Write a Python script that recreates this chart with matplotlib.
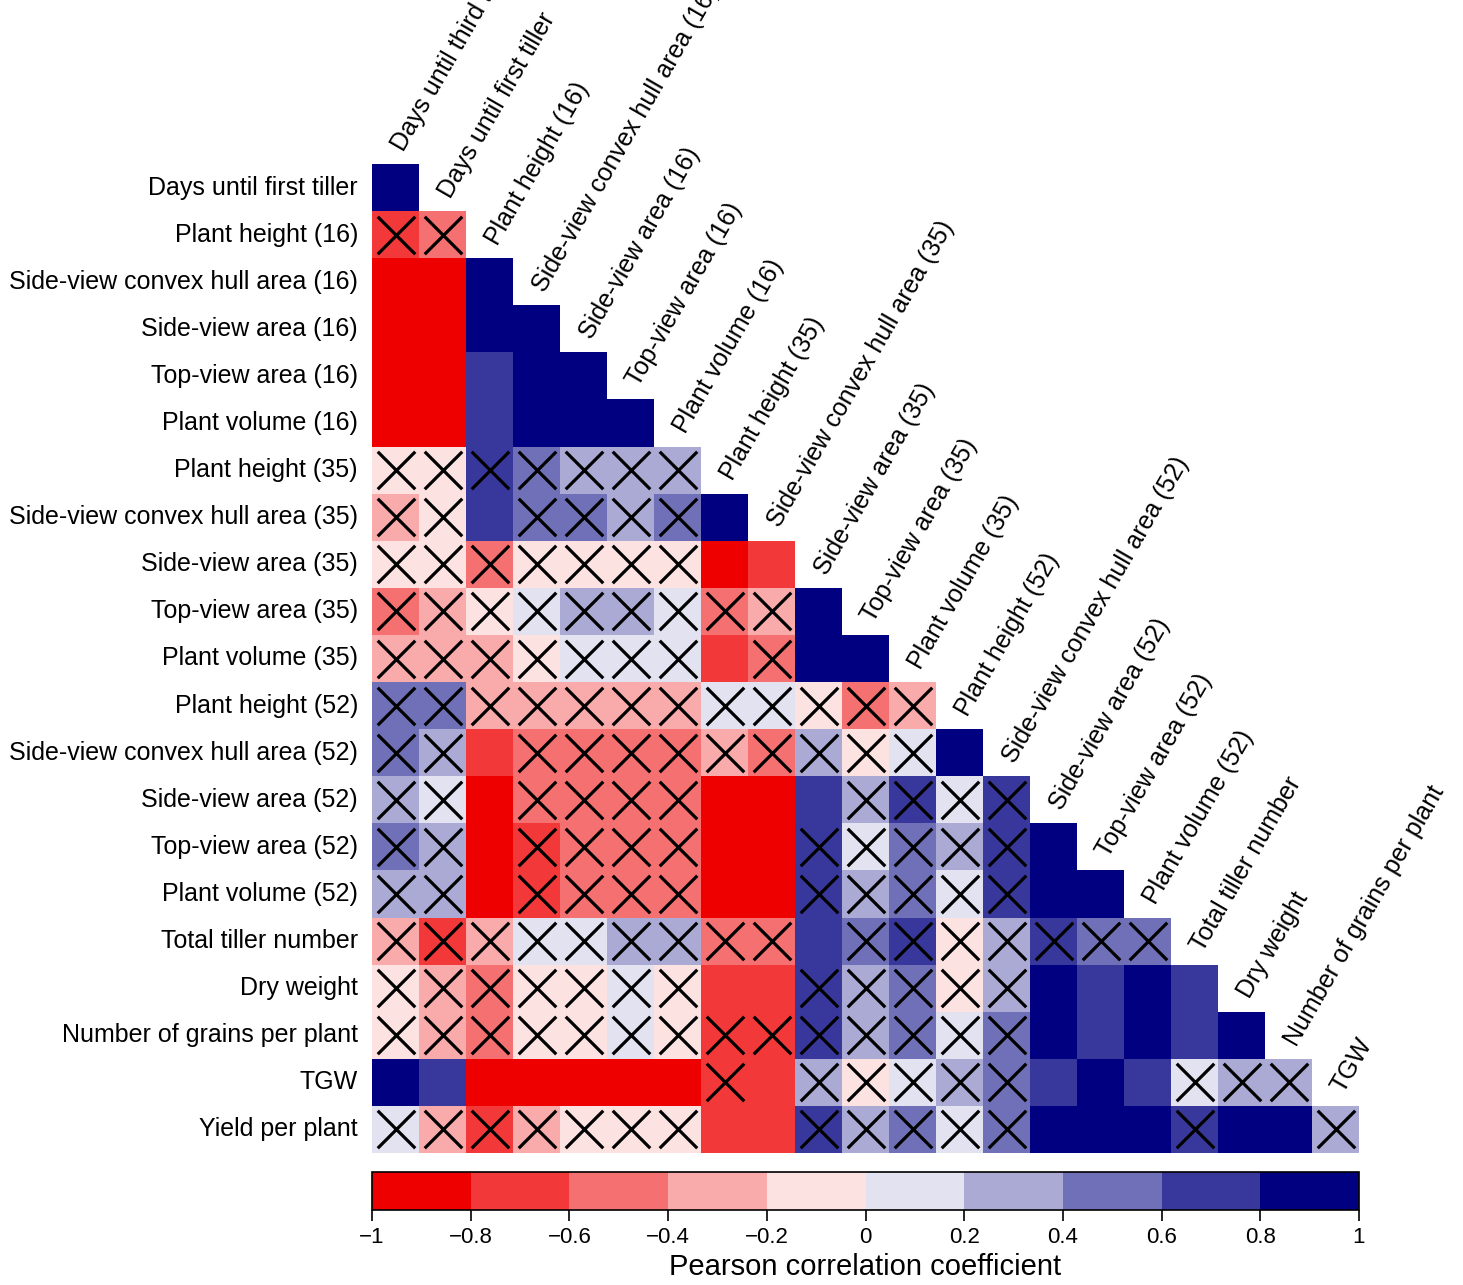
import numpy as np
import matplotlib
matplotlib.use("Agg")
import matplotlib.pyplot as plt
from matplotlib.colors import LinearSegmentedColormap, ListedColormap, BoundaryNorm
from matplotlib.cm import ScalarMappable

plt.rcParams['font.family'] = ['Liberation Sans', 'DejaVu Sans']

# variables (columns = first 21, rows = last 21)
variables = ["Days until third tiller", "Days until first tiller",
             "Plant height (16)", "Side-view convex hull area (16)", "Side-view area (16)",
             "Top-view area (16)", "Plant volume (16)",
             "Plant height (35)", "Side-view convex hull area (35)", "Side-view area (35)",
             "Top-view area (35)", "Plant volume (35)",
             "Plant height (52)", "Side-view convex hull area (52)", "Side-view area (52)",
             "Top-view area (52)", "Plant volume (52)",
             "Total tiller number", "Dry weight", "Number of grains per plant", "TGW",
             "Yield per plant"]

# lower triangle of the Pearson correlation matrix (row i = variables[i+1])
corr_rows = [
    [0.9],
    [-0.7, -0.5],
    [-0.9, -0.9, 0.9],
    [-0.9, -0.9, 0.9, 0.9],
    [-0.9, -0.9, 0.7, 0.9, 0.9],
    [-0.9, -0.9, 0.7, 0.9, 0.9, 0.9],
    [-0.1, -0.1, 0.7, 0.5, 0.3, 0.3, 0.3],
    [-0.3, -0.1, 0.7, 0.5, 0.5, 0.3, 0.5, 0.9],
    [-0.1, -0.1, -0.5, -0.1, -0.1, -0.1, -0.1, -0.9, -0.7],
    [-0.5, -0.3, -0.1, 0.1, 0.3, 0.3, 0.1, -0.5, -0.3, 0.9],
    [-0.3, -0.3, -0.3, -0.1, 0.1, 0.1, 0.1, -0.7, -0.5, 0.9, 0.9],
    [0.5, 0.5, -0.3, -0.3, -0.3, -0.3, -0.3, 0.1, 0.1, -0.1, -0.5, -0.3],
    [0.5, 0.3, -0.7, -0.5, -0.5, -0.5, -0.5, -0.3, -0.5, 0.3, -0.1, 0.1, 0.9],
    [0.3, 0.1, -0.9, -0.5, -0.5, -0.5, -0.5, -0.9, -0.9, 0.7, 0.3, 0.7, 0.1, 0.7],
    [0.5, 0.3, -0.9, -0.7, -0.5, -0.5, -0.5, -0.9, -0.9, 0.7, 0.1, 0.5, 0.3, 0.7, 0.9],
    [0.3, 0.3, -0.9, -0.7, -0.5, -0.5, -0.5, -0.9, -0.9, 0.7, 0.3, 0.5, 0.1, 0.7, 0.9, 0.9],
    [-0.3, -0.7, -0.3, 0.1, 0.1, 0.3, 0.3, -0.5, -0.5, 0.7, 0.5, 0.7, -0.1, 0.3, 0.7, 0.5, 0.5],
    [-0.1, -0.3, -0.5, -0.1, -0.1, 0.1, -0.1, -0.7, -0.7, 0.7, 0.3, 0.5, -0.1, 0.3, 0.9, 0.7, 0.9, 0.7],
    [-0.1, -0.3, -0.5, -0.1, -0.1, 0.1, -0.1, -0.7, -0.7, 0.7, 0.3, 0.5, 0.1, 0.5, 0.9, 0.7, 0.9, 0.7, 0.9],
    [0.9, 0.7, -0.9, -0.9, -0.9, -0.9, -0.9, -0.7, -0.7, 0.3, -0.1, 0.1, 0.3, 0.5, 0.7, 0.9, 0.7, 0.1, 0.3, 0.3],
    [0.1, -0.3, -0.7, -0.3, -0.1, -0.1, -0.1, -0.7, -0.7, 0.7, 0.3, 0.5, 0.1, 0.5, 0.9, 0.9, 0.9, 0.7, 0.9, 0.9, 0.3],
]

# 'x' = not significant (crossed out)
nonsig_rows = [
    ".",
    "xx",
    "...",
    "....",
    ".....",
    "......",
    "xxxxxxx",
    "xx.xxxx.",
    "xxxxxxx..",
    "xxxxxxxxx.",
    "xxxxxxx.x..",
    "xxxxxxxxxxxx",
    "xx.xxxxxxxxx.",
    "xx.xxxx...xxxx",
    "xx.xxxx..xxxxx.",
    "xx.xxxx..xxxxx..",
    "xxxxxxxxx.xxxxxxx",
    "xxxxxxx..xxxxx....",
    "xxxxxxxxxxxxxx.....",
    ".......x.xxxxx...xxx",
    "xxxxxxx..xxxxx...x..x",
]

col_labels = variables[:-1]
row_labels = variables[1:]
n = len(row_labels)

mat = np.full((n, n), np.nan)
for i, row in enumerate(corr_rows):
    mat[i, :len(row)] = row

# 10 discrete colours red2 -> white -> navy
base = LinearSegmentedColormap.from_list("rwb", ["#EE0000", "#FFFFFF", "#000080"])
cmap = ListedColormap([base(i / 9) for i in range(10)])
bounds = np.linspace(-1, 1, 11)
norm = BoundaryNorm(bounds, cmap.N)

fig = plt.figure(figsize=(14.63, 12.85), dpi=100)
ax = fig.add_axes([372 / 1463, 1 - 1153 / 1285, 987 / 1463, 989 / 1285])
ax.pcolormesh(np.arange(n + 1), np.arange(n + 1), np.ma.masked_invalid(mat),
              cmap=cmap, norm=norm)
ax.set_xlim(0, n)
ax.set_ylim(n, 0)
ax.axis('off')

# crosses for non-significant correlations
xs, ys = [], []
for i, s in enumerate(nonsig_rows):
    for j, ch in enumerate(s):
        if ch == 'x':
            xs.append(j + 0.5)
            ys.append(i + 0.5)
ax.scatter(xs, ys, marker='x', s=27 ** 2, c='black', linewidths=2.3, zorder=3)

# row labels
for i, lab in enumerate(row_labels):
    ax.text(-0.3, i + 0.5, lab, ha='right', va='center', fontsize=18)

# column labels, rotated along the diagonal
for j, lab in enumerate(col_labels):
    ax.text(j + 0.68, j - 0.25, lab, ha='left', va='baseline', rotation=60,
            rotation_mode='anchor', fontsize=18, clip_on=False)

# colour legend
cax = fig.add_axes([372 / 1463, 1 - 1210 / 1285, 987 / 1463, 38 / 1285])
cb = fig.colorbar(ScalarMappable(norm=norm, cmap=cmap), cax=cax, orientation='horizontal')
cb.set_ticks(bounds)
cb.set_ticklabels(["\u22121", "\u22120.8", "\u22120.6", "\u22120.4", "\u22120.2", "0",
                   "0.2", "0.4", "0.6", "0.8", "1"])
cax.tick_params(labelsize=16, length=8, width=1.2, pad=4)
cb.outline.set_linewidth(1.2)
cb.set_label("Pearson correlation coefficient", fontsize=21, labelpad=4)

fig.savefig("out.png", dpi=100)
